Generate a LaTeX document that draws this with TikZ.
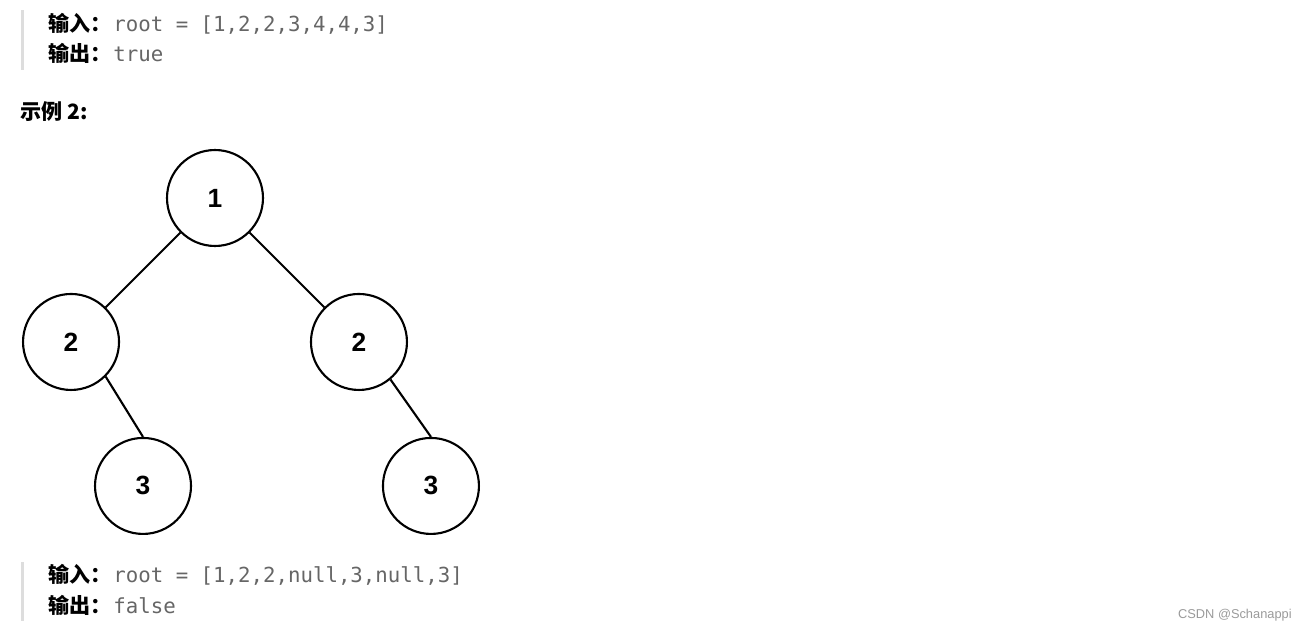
\documentclass[tikz,border=0pt]{standalone}
\usepackage{fontspec}
\setmainfont{Liberation Sans}
\newfontfamily\cjkfont{Noto Sans CJK SC}
\newfontfamily\codefont{DejaVu Sans Mono}
\usetikzlibrary{positioning}
\definecolor{codegray}{HTML}{666666}
\definecolor{bargray}{HTML}{DDDDDD}
\definecolor{markgray}{HTML}{9A9A9A}

\begin{document}
\begin{tikzpicture}[x=0.02cm, y=-0.02cm, node distance=2.88cm, on grid,
		treenode/.style={circle, draw, line width=1.2pt, minimum size=1.92cm, inner sep=0pt, font=\fontsize{15}{15}\selectfont\bfseries},
		tag/.style={anchor=base west, inner sep=0pt, font=\cjkfont\fontsize{12}{12}\selectfont\bfseries},
		code/.style={anchor=base west, inner sep=0pt, text=codegray, font=\codefont\fontsize{11.8}{12}\selectfont},
		edge/.style={line width=1.2pt}]
		\useasboundingbox (0,0) rectangle (1315,631);
		% Example 1 output
		\fill[bargray] (21,10) rectangle (24,70);
		\node [tag] (in1) at (48,32) {输入：};
		\node [code] (val1) at (113,32) {root = [1,2,2,3,4,4,3]};
		\node [tag] (out1) at (48,62) {输出：};
		\node [code] (res1) at (113,62) {true};
		\node [tag] (title) at (20,119.5) {示例 2:};
		
		% Place tree nodes
		\node [treenode] (root) at (215,198) {1};
		\node [treenode,below left=2.88cm and 2.88cm of root] (l2) {2};
		\node [treenode,below right=2.88cm and 2.88cm of root] (r2) {2};
		\node [treenode,below right=2.88cm and 1.44cm of l2] (l3) {3};
		\node [treenode,below right=2.88cm and 1.44cm of r2] (r3) {3};
		\draw [edge] (root) -- (l2);
		\draw [edge] (root) -- (r2);
		\draw [edge] (l2.-45) -- (l3.north);
		\draw [edge] (r2.-50) -- (r3.north);
		
		% Example 2 output
		\fill[bargray] (21,562) rectangle (24,621);
		\node [tag] (in2) at (48,582) {输入：};
		\node [code] (val2) at (113,582) {root = [1,2,2,null,3,null,3]};
		\node [tag] (out2) at (48,613) {输出：};
		\node [code] (res2) at (113,613) {false};
		\node [anchor=base east, inner sep=0pt, text=markgray, font=\fontsize{7.3}{8}\selectfont] (mark) at (1292,618) {CSDN @Schanappi};
\end{tikzpicture}
\end{document}
